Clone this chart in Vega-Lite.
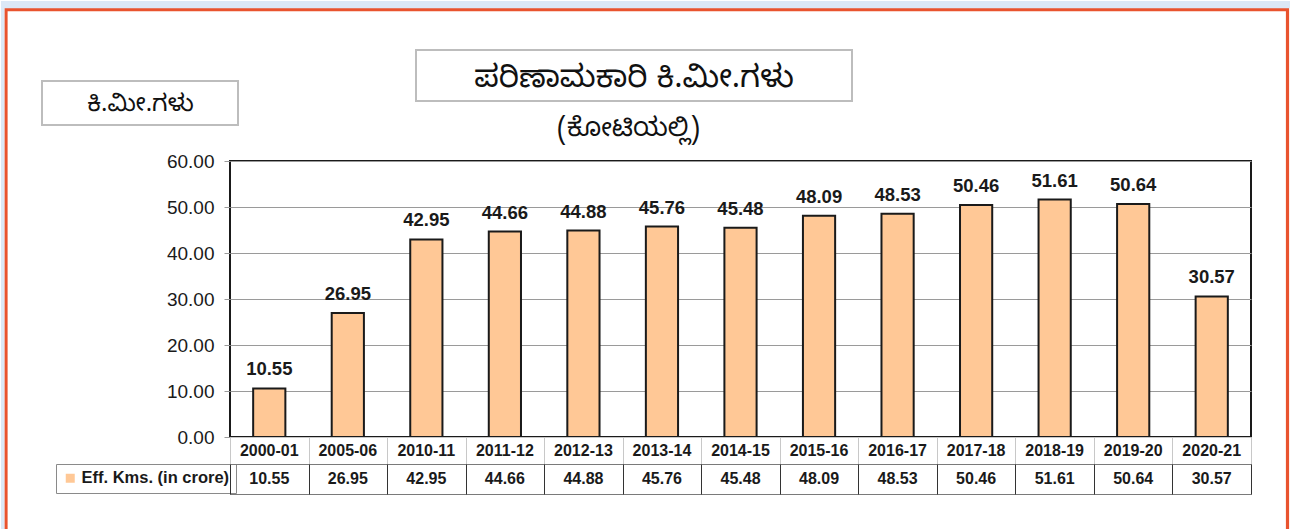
{
  "$schema": "https://vega.github.io/schema/vega-lite/v6.json",
  "background": "white",
  "padding": 0,
  "spacing": 0,
  "bounds": "flush",
  "data": {"values": [
    {"year": "2000-01", "value": 10.55, "series": "Eff. Kms. (in crore)"},
    {"year": "2005-06", "value": 26.95, "series": "Eff. Kms. (in crore)"},
    {"year": "2010-11", "value": 42.95, "series": "Eff. Kms. (in crore)"},
    {"year": "2011-12", "value": 44.66, "series": "Eff. Kms. (in crore)"},
    {"year": "2012-13", "value": 44.88, "series": "Eff. Kms. (in crore)"},
    {"year": "2013-14", "value": 45.76, "series": "Eff. Kms. (in crore)"},
    {"year": "2014-15", "value": 45.48, "series": "Eff. Kms. (in crore)"},
    {"year": "2015-16", "value": 48.09, "series": "Eff. Kms. (in crore)"},
    {"year": "2016-17", "value": 48.53, "series": "Eff. Kms. (in crore)"},
    {"year": "2017-18", "value": 50.46, "series": "Eff. Kms. (in crore)"},
    {"year": "2018-19", "value": 51.61, "series": "Eff. Kms. (in crore)"},
    {"year": "2019-20", "value": 50.64, "series": "Eff. Kms. (in crore)"},
    {"year": "2020-21", "value": 30.57, "series": "Eff. Kms. (in crore)"}
  ]},
  "resolve": {"scale": {"color": "independent", "stroke": "independent"}},
  "vconcat": [
    {
      "width": 1021,
      "height": 276,
      "view": {"stroke": "#1a1a1a", "strokeWidth": 2},
      "encoding": {
        "x": {"field": "year", "type": "nominal", "sort": null,
          "scale": {"paddingInner": 0, "paddingOuter": 0},
          "axis": {"orient": "top", "labels": false, "ticks": false, "domain": false, "grid": false,
            "title": "ಪರಿಣಾಮಕಾರಿ ಕಿ.ಮೀ.ಗಳು", "titleX": 403.5, "titleY": -84,
            "titleAlign": "center", "titleBaseline": "middle", "titleAngle": 0,
            "titleFontSize": 31, "titleFontWeight": "normal", "titleColor": "#111111",
            "titleFont": "Noto Sans Kannada, Noto Sans, sans-serif"}},
        "y": {"field": "value", "type": "quantitative",
          "scale": {"domain": [0, 60], "nice": false, "zero": true},
          "axis": {"values": [0, 10, 20, 30, 40, 50, 60], "format": ".2f", "domain": false,
            "grid": true, "gridColor": "#9a9a9a", "gridWidth": 1,
            "ticks": true, "tickColor": "#9a9a9a", "tickSize": 6, "labelPadding": 10,
            "labelFont": "Liberation Sans", "labelFontSize": 19, "labelColor": "#1a1a1a",
            "title": "ಕಿ.ಮೀ.ಗಳು", "titleAngle": 0, "titleX": -90, "titleY": -58,
            "titleAlign": "center", "titleBaseline": "middle",
            "titleFontSize": 24, "titleFontWeight": "normal", "titleColor": "#111111",
            "titleFont": "Noto Sans Kannada, Noto Sans, sans-serif"}}
      },
      "layer": [
        {
          "mark": {"type": "bar", "width": {"band": 0.41}, "stroke": "#1a1a1a", "strokeWidth": 2},
          "encoding": {
            "color": {"field": "series", "type": "nominal", "scale": {"range": ["#FFC896"]},
              "legend": {"orient": "none", "legendX": -174, "legendY": 303, "title": null,
                "symbolType": "square", "symbolSize": 81, "symbolStrokeWidth": 0, "symbolFillColor": "#FFC896",
                "labelFont": "Liberation Sans", "labelFontSize": 16.5, "labelFontWeight": "bold",
                "labelColor": "#1a1a1a", "labelOffset": 3, "padding": 6,
                "strokeColor": "#8a8a8a"}}
          }
        },
        {
          "mark": {"type": "text", "dy": -13, "baseline": "alphabetic", "fontSize": 18.5, "fontWeight": "bold",
            "font": "Liberation Sans", "fill": "#1a1a1a", "strokeWidth": 0},
          "encoding": {
            "text": {"field": "value", "type": "quantitative", "format": ".2f"},
            "stroke": {"field": "value", "type": "quantitative",
              "scale": {"range": ["rgba(0,0,0,0)", "rgba(0,0,0,0)"]},
              "legend": {"orient": "none", "legendX": -224, "legendY": -151.3, "direction": "horizontal",
                "gradientLength": 1281.5, "gradientThickness": 545, "gradientStrokeColor": "#E9532E",
                "gradientStrokeWidth": 3.2, "labelOpacity": 0, "labelExpr": "''", "title": null, "padding": 0}}
          }
        }
      ]
    },
    {
      "width": 1021,
      "height": 27,
      "view": {"stroke": "#c8c8c8", "strokeWidth": 1},
      "mark": {"type": "text", "fontSize": 16, "fontWeight": "bold", "font": "Liberation Sans",
        "fill": "#1a1a1a", "strokeWidth": 0, "baseline": "middle"},
      "encoding": {
        "x": {"field": "year", "type": "nominal", "sort": null,
          "scale": {"paddingInner": 0, "paddingOuter": 0},
          "axis": {"grid": true, "gridColor": "#c8c8c8", "tickBand": "extent", "labels": false, "ticks": false, "domain": false,
            "title": "(ಕೋಟಿಯಲ್ಲಿ)", "titleX": 398, "titleY": -337,
            "titleAlign": "center", "titleBaseline": "middle", "titleAngle": 0,
            "titleFontSize": 26, "titleFontWeight": "normal", "titleColor": "#111111",
            "titleFont": "Noto Sans Kannada, Noto Sans, sans-serif"}},
        "text": {"field": "year", "type": "nominal"},
        "stroke": {"field": "value", "type": "quantitative",
          "scale": {"range": ["rgba(0,0,0,0)", "rgba(0,0,0,0)"]},
          "legend": {"orient": "none", "legendX": 186, "legendY": -387, "direction": "horizontal",
            "gradientLength": 436, "gradientThickness": 51, "gradientStrokeColor": "#BDBDBD",
            "gradientStrokeWidth": 2, "labelOpacity": 0, "labelExpr": "''", "title": null, "padding": 0}}
      }
    },
    {
      "width": 1021,
      "height": 30,
      "view": {"stroke": "#7a7a7a", "strokeWidth": 1},
      "encoding": {
        "x": {"field": "year", "type": "nominal", "sort": null,
          "scale": {"paddingInner": 0, "paddingOuter": 0},
          "axis": {"grid": true, "gridColor": "#333333", "tickBand": "extent", "labels": false, "ticks": false, "domain": false, "title": null}}
      },
      "resolve": {"scale": {"stroke": "independent"}},
      "layer": [
        {
          "mark": {"type": "text", "fontSize": 16, "fontWeight": "bold", "font": "Liberation Sans",
            "fill": "#1a1a1a", "strokeWidth": 0, "baseline": "middle"},
          "encoding": {
            "text": {"field": "value", "type": "quantitative", "format": ".2f"},
            "stroke": {"field": "value", "type": "quantitative",
              "scale": {"range": ["rgba(0,0,0,0)", "rgba(0,0,0,0)"]},
              "legend": {"orient": "none", "legendX": -188, "legendY": -383, "direction": "horizontal",
                "gradientLength": 196, "gradientThickness": 44, "gradientStrokeColor": "#BDBDBD",
                "gradientStrokeWidth": 2, "labelOpacity": 0, "labelExpr": "''", "title": null, "padding": 0}}
          }
        },
        {
          "mark": {"type": "text", "strokeWidth": 0, "fill": "#1a1a1a"},
          "encoding": {
            "text": {"value": ""},
            "stroke": {"field": "value", "type": "quantitative",
              "scale": {"range": ["#DCE8F6", "#DCE8F6"]},
              "legend": {"orient": "none", "legendX": -229, "legendY": -463, "direction": "horizontal",
                "gradientLength": 1290, "gradientThickness": 7.3, "gradientStrokeWidth": 0,
                "labelOpacity": 0, "labelExpr": "''", "title": null, "padding": 0}}
          }
        },
        {
          "mark": {"type": "text", "strokeWidth": 0, "fill": "#1a1a1a"},
          "encoding": {
            "text": {"value": ""},
            "stroke": {"field": "value", "type": "quantitative",
              "scale": {"range": ["#DCE8F6", "#DCE8F6"]},
              "legend": {"orient": "none", "legendX": -229, "legendY": -463, "direction": "vertical",
                "gradientLength": 529, "gradientThickness": 3.4, "gradientStrokeWidth": 0,
                "labelOpacity": 0, "labelExpr": "''", "title": null, "padding": 0}}
          }
        }
      ]
    }
  ]
}
